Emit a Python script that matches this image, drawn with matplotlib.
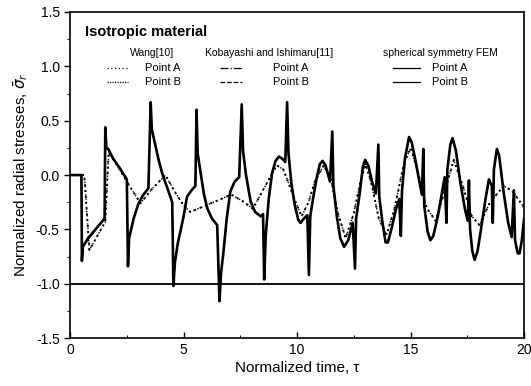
import matplotlib.pyplot as plt
from matplotlib.ticker import MultipleLocator

plt.rcParams['font.family'] = ['Liberation Sans', 'DejaVu Sans']

# spherical symmetry FEM (points A and B lie on top of each other)
fem_t = [0, 0.5, 0.52, 0.56, 0.8, 1.2, 1.52, 1.55, 1.6, 1.68, 1.9, 2.2, 2.5, 2.55, 2.6, 2.8,
         3.0, 3.2, 3.45, 3.55, 3.6, 3.75, 3.9, 4.05, 4.25, 4.5, 4.55, 4.62, 4.75, 4.9, 5.0,
         5.15, 5.35, 5.52, 5.57, 5.62, 5.75, 5.9, 6.05, 6.25, 6.48, 6.58, 6.65, 6.75, 6.9,
         7.06, 7.25, 7.45, 7.56, 7.62, 7.75, 7.95, 8.15, 8.4, 8.5, 8.55, 8.62, 8.75, 8.9,
         9.05, 9.2, 9.35, 9.48, 9.56, 9.62, 9.75, 9.9, 10.05, 10.15, 10.3, 10.45, 10.52,
         10.58, 10.7, 10.85, 11.0, 11.12, 11.25, 11.45, 11.55, 11.6, 11.75, 11.9, 12.07,
         12.25, 12.45, 12.55, 12.6, 12.75, 12.9, 13.0, 13.15, 13.3, 13.47, 13.58, 13.62,
         13.75, 13.9, 14.0, 14.15, 14.35, 14.5, 14.57, 14.62, 14.75, 14.93, 15.05, 15.2,
         15.35, 15.5, 15.56, 15.6, 15.75, 15.87, 16.0, 16.2, 16.35, 16.5, 16.58, 16.62,
         16.75, 16.85, 17.0, 17.2, 17.4, 17.52, 17.57, 17.62, 17.72, 17.82, 17.95, 18.1,
         18.3, 18.45, 18.58, 18.62, 18.67, 18.8, 18.9, 19.1, 19.3, 19.45, 19.55, 19.6,
         19.72, 19.8, 19.9, 20.0]
fem_s = [0, 0, -0.79, -0.66, -0.58, -0.48, -0.40, 0.44, 0.25, 0.24, 0.15, 0.06, -0.04, -0.84,
         -0.58, -0.40, -0.27, -0.19, -0.12, 0.67, 0.42, 0.28, 0.14, 0.02, -0.10, -0.25,
         -1.02, -0.80, -0.62, -0.48, -0.38, -0.20, -0.14, -0.10, 0.60, 0.20, 0.02, -0.18,
         -0.31, -0.40, -0.46, -1.16, -0.90, -0.72, -0.40, -0.15, -0.06, -0.02, 0.65, 0.22,
         0.0, -0.24, -0.34, -0.38, -0.36, -0.96, -0.55, -0.22, 0.02, 0.13, 0.17, 0.15, 0.12,
         0.67, 0.20, -0.08, -0.28, -0.41, -0.44, -0.40, -0.37, -0.92, -0.38, -0.22, -0.04,
         0.10, 0.13, 0.09, -0.06, 0.40, -0.10, -0.38, -0.58, -0.66, -0.60, -0.44, -0.86,
         -0.40, -0.18, 0.08, 0.14, 0.08, -0.06, -0.17, 0.28, -0.20, -0.42, -0.62, -0.62,
         -0.50, -0.32, -0.22, -0.56, -0.15, 0.15, 0.35, 0.30, 0.15, -0.02, -0.18, 0.24,
         -0.28, -0.52, -0.60, -0.56, -0.38, -0.20, -0.02, -0.44, 0.05, 0.28, 0.34, 0.22,
         -0.08, -0.32, -0.42, -0.05, -0.50, -0.70, -0.78, -0.70, -0.50, -0.22, -0.04, -0.10,
         -0.44, 0.05, 0.24, 0.18, -0.16, -0.44, -0.57, -0.14, -0.60, -0.72, -0.72, -0.60,
         -0.40]

# Wang[10]
wang_t = [0, 0.62, 0.65, 0.85, 1.2, 1.55, 1.7, 2.1, 2.5, 3.1, 3.6, 4.2, 4.6, 5.0, 5.3, 6.2,
          7.1, 7.6, 8.05, 8.6, 9.1, 9.4, 9.9, 10.2, 10.5, 10.8, 11.18, 11.5, 11.8, 12.14,
          12.5, 12.8, 13.02, 13.3, 13.6, 13.94, 14.3, 14.7, 15.0, 15.3, 15.7, 16.1, 16.5,
          16.9, 17.3, 17.7, 18.03, 18.5, 19.1, 19.5, 20.0]
wang_s = [0, 0, -0.07, -0.69, -0.56, -0.43, 0.21, 0.08, -0.06, -0.26, -0.13, 0.0, -0.15,
          -0.28, -0.34, -0.26, -0.18, -0.24, -0.31, -0.10, 0.09, 0.05, -0.23, -0.38, -0.25,
          -0.05, 0.09, -0.05, -0.35, -0.58, -0.35, -0.05, 0.10, -0.10, -0.40, -0.55, -0.30,
          0.10, 0.25, 0.05, -0.30, -0.42, -0.15, 0.14, -0.10, -0.38, -0.46, -0.25, -0.10,
          -0.15, -0.30]

ref_level = -1.0

fig = plt.figure(figsize=(5.31, 3.86), dpi=100)
ax = fig.add_axes([0.132, 0.124, 0.855, 0.845])

# Kobayashi and Ishimaru[11] curves coincide with the FEM ones
ax.plot(fem_t, fem_s, color='k', lw=0.8, ls='-.')
ax.plot(fem_t, fem_s, color='k', lw=0.8, ls='--')
ax.plot(wang_t, wang_s, color='k', lw=1.4, ls=(0, (1, 2)))
ax.plot(wang_t, wang_s, color='k', lw=1.0, ls=(0, (1, 2)))
ax.plot(fem_t, fem_s, color='k', lw=1.9)
ax.plot(fem_t, fem_s, color='k', lw=0.8)
ax.axhline(ref_level, color='k', lw=1.3)

ax.set_xlim(0, 20)
ax.set_ylim(-1.5, 1.5)
ax.xaxis.set_major_locator(MultipleLocator(5))
ax.xaxis.set_minor_locator(MultipleLocator(2.5))
ax.yaxis.set_major_locator(MultipleLocator(0.5))
ax.yaxis.set_minor_locator(MultipleLocator(0.25))
ax.set_yticklabels([f'{v:.1f}' for v in ax.get_yticks()])
ax.tick_params(axis='both', which='major', labelsize=10, length=4, width=1)
ax.tick_params(axis='both', which='minor', length=2.5, width=0.8)
ax.tick_params(axis='x', which='both', direction='in')
ax.tick_params(axis='y', which='both', direction='out')
for sp in ax.spines.values():
    sp.set_linewidth(1.2)

ax.set_xlabel('Normalized time, τ', fontsize=11, labelpad=3)
ax.set_ylabel(r'Normalized radial stresses, $\bar{\sigma}_r$', fontsize=11, labelpad=4)

# legend block drawn by hand
tr = ax.transAxes
ax.text(0.033, 0.94, 'Isotropic material', transform=tr, fontsize=10.5,
        fontweight='bold', va='center', ha='left')
headers = ['Wang[10]', 'Kobayashi and Ishimaru[11]', 'spherical symmetry FEM']
head_x = [0.18, 0.438, 0.815]
for h, hx in zip(headers, head_x):
    ax.text(hx, 0.874, h, transform=tr, fontsize=7.5, ha='center', va='center')

samples = [
    [(0.081, 0.128), (0, (1, 2)), (0, (1, 1)), 0.165],
    [(0.330, 0.378), '-.', '--', 0.448],
    [(0.711, 0.771), '-', '-', 0.797],
]
for (x0, x1), sa, sb, lx in samples:
    ax.plot([x0, x1], [0.828, 0.828], transform=tr, color='k', lw=0.9, ls=sa)
    ax.plot([x0, x1], [0.785, 0.785], transform=tr, color='k', lw=0.9, ls=sb)
    ax.text(lx, 0.828, 'Point A', transform=tr, fontsize=8, va='center')
    ax.text(lx, 0.785, 'Point B', transform=tr, fontsize=8, va='center')

fig.savefig('out.png', dpi=100)
